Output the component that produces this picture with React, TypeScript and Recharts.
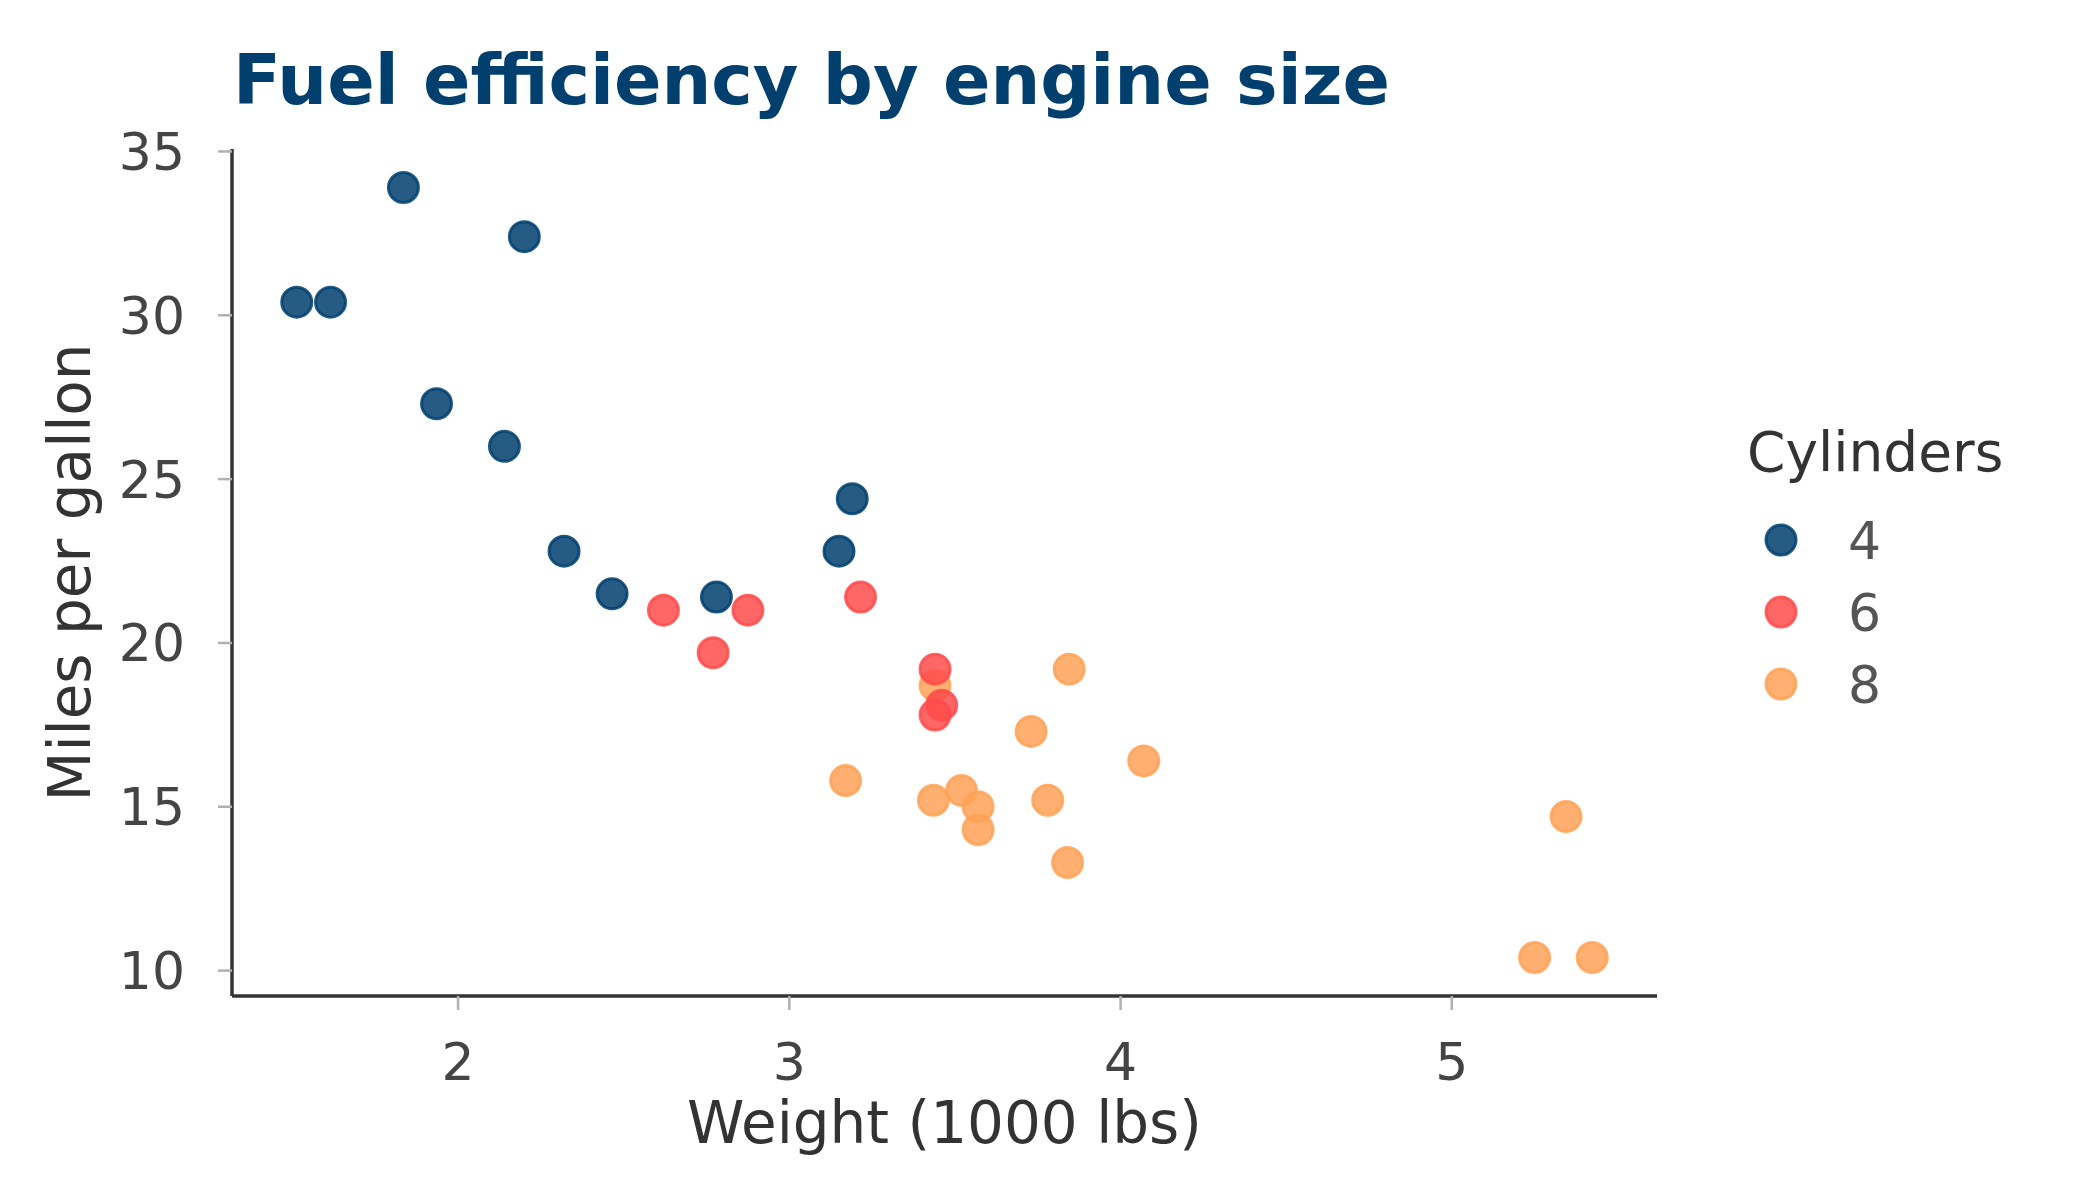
import { ScatterChart, Scatter, XAxis, YAxis } from 'recharts';

// mtcars: weight (1000 lbs), mpg, cylinders, in row order
const carWeight = [
  2.62, 2.875, 2.32, 3.215, 3.44, 3.46, 3.57, 3.19, 3.15, 3.44, 3.44, 4.07, 3.73, 3.78, 5.25, 5.424,
  5.345, 2.2, 1.615, 1.835, 2.465, 3.52, 3.435, 3.84, 3.845, 1.935, 2.14, 1.513, 3.17, 2.77, 3.57, 2.78,
];
const carMpg = [
  21.0, 21.0, 22.8, 21.4, 18.7, 18.1, 14.3, 24.4, 22.8, 19.2, 17.8, 16.4, 17.3, 15.2, 10.4, 10.4,
  14.7, 32.4, 30.4, 33.9, 21.5, 15.5, 15.2, 13.3, 19.2, 27.3, 26.0, 30.4, 15.8, 19.7, 15.0, 21.4,
];
const carCyl = [
  6, 6, 4, 6, 8, 6, 8, 4, 4, 6, 6, 8, 8, 8, 8, 8,
  8, 4, 4, 4, 4, 8, 8, 8, 8, 4, 4, 4, 8, 6, 8, 4,
];

const cylinderLevels = [4, 6, 8];
const cylinderColors = ['#003f6e', '#ff4b4b', '#ffa257'];

const xTicks = [2, 3, 4, 5];
const yTicks = [10, 15, 20, 25, 30, 35];

const FONT = '"DejaVu Sans", sans-serif';

const rows = carWeight.map((wt, i) => ({ wt, mpg: carMpg[i], cyl: carCyl[i] }));

function colorFor(cyl: number) {
  return cylinderColors[cylinderLevels.indexOf(cyl)];
}

function Dot(props: any) {
  const c = colorFor(props.payload.cyl);
  return (
    <circle
      cx={props.cx}
      cy={props.cy}
      r={15}
      fill={c}
      fillOpacity={0.85}
      stroke={c}
      strokeOpacity={0.85}
      strokeWidth={3}
    />
  );
}

const tickStyle = { fontSize: 52, fill: '#444', fontFamily: FONT };

export default function App() {
  return (
    <div style={{ position: 'absolute', left: 0, top: 0, width: 2100, height: 1200, background: '#fff' }}>
      <ScatterChart width={2100} height={1200} margin={{ top: 149, right: 443, bottom: 0, left: 0 }}>
        <XAxis
          dataKey="wt"
          type="number"
          domain={[1.3175, 5.6195]}
          allowDataOverflow
          ticks={xTicks}
          height={204}
          tickSize={14}
          tickMargin={33}
          tick={tickStyle}
          tickLine={{ stroke: '#b0b0b0', strokeWidth: 2.5 }}
          axisLine={{ stroke: '#333', strokeWidth: 3.5 }}
          label={({ viewBox }: any) => (
            <text
              x={viewBox.x + viewBox.width / 2}
              y={viewBox.y + 147}
              textAnchor="middle"
              fontSize={58}
              fill="#333"
              fontFamily={FONT}
            >
              Weight (1000 lbs)
            </text>
          )}
        />
        <YAxis
          dataKey="mpg"
          type="number"
          domain={[9.225, 35.075]}
          allowDataOverflow
          ticks={yTicks}
          width={232}
          tickSize={14}
          tickMargin={33}
          tick={tickStyle}
          tickLine={{ stroke: '#b0b0b0', strokeWidth: 2.5 }}
          axisLine={{ stroke: '#333', strokeWidth: 3.5 }}
          label={({ viewBox }: any) => (
            <text
              transform={`translate(${viewBox.x + 90}, ${viewBox.y + viewBox.height / 2}) rotate(-90)`}
              textAnchor="middle"
              fontSize={58}
              fill="#333"
              fontFamily={FONT}
            >
              Miles per gallon
            </text>
          )}
        />
        <Scatter data={rows} shape={Dot} isAnimationActive={false} />
      </ScatterChart>
      <svg
        width={2100}
        height={1200}
        style={{ position: 'absolute', left: 0, top: 0, pointerEvents: 'none' }}
      >
        <text x={233} y={104} fontSize={70} fontWeight="bold" fill="#003f6e" fontFamily={FONT}>
          Fuel efficiency by engine size
        </text>
        <text x={1747} y={471} fontSize={55} fill="#333" fontFamily={FONT}>
          Cylinders
        </text>
        {cylinderLevels.map((cyl, i) => (
          <g key={cyl}>
            <circle
              cx={1781}
              cy={540 + i * 72}
              r={15}
              fill={cylinderColors[i]}
              fillOpacity={0.85}
              stroke={cylinderColors[i]}
              strokeOpacity={0.85}
              strokeWidth={3}
            />
            <text x={1848} y={540 + i * 72} dy="0.36em" fontSize={52} fill="#555" fontFamily={FONT}>
              {cyl}
            </text>
          </g>
        ))}
      </svg>
    </div>
  );
}
